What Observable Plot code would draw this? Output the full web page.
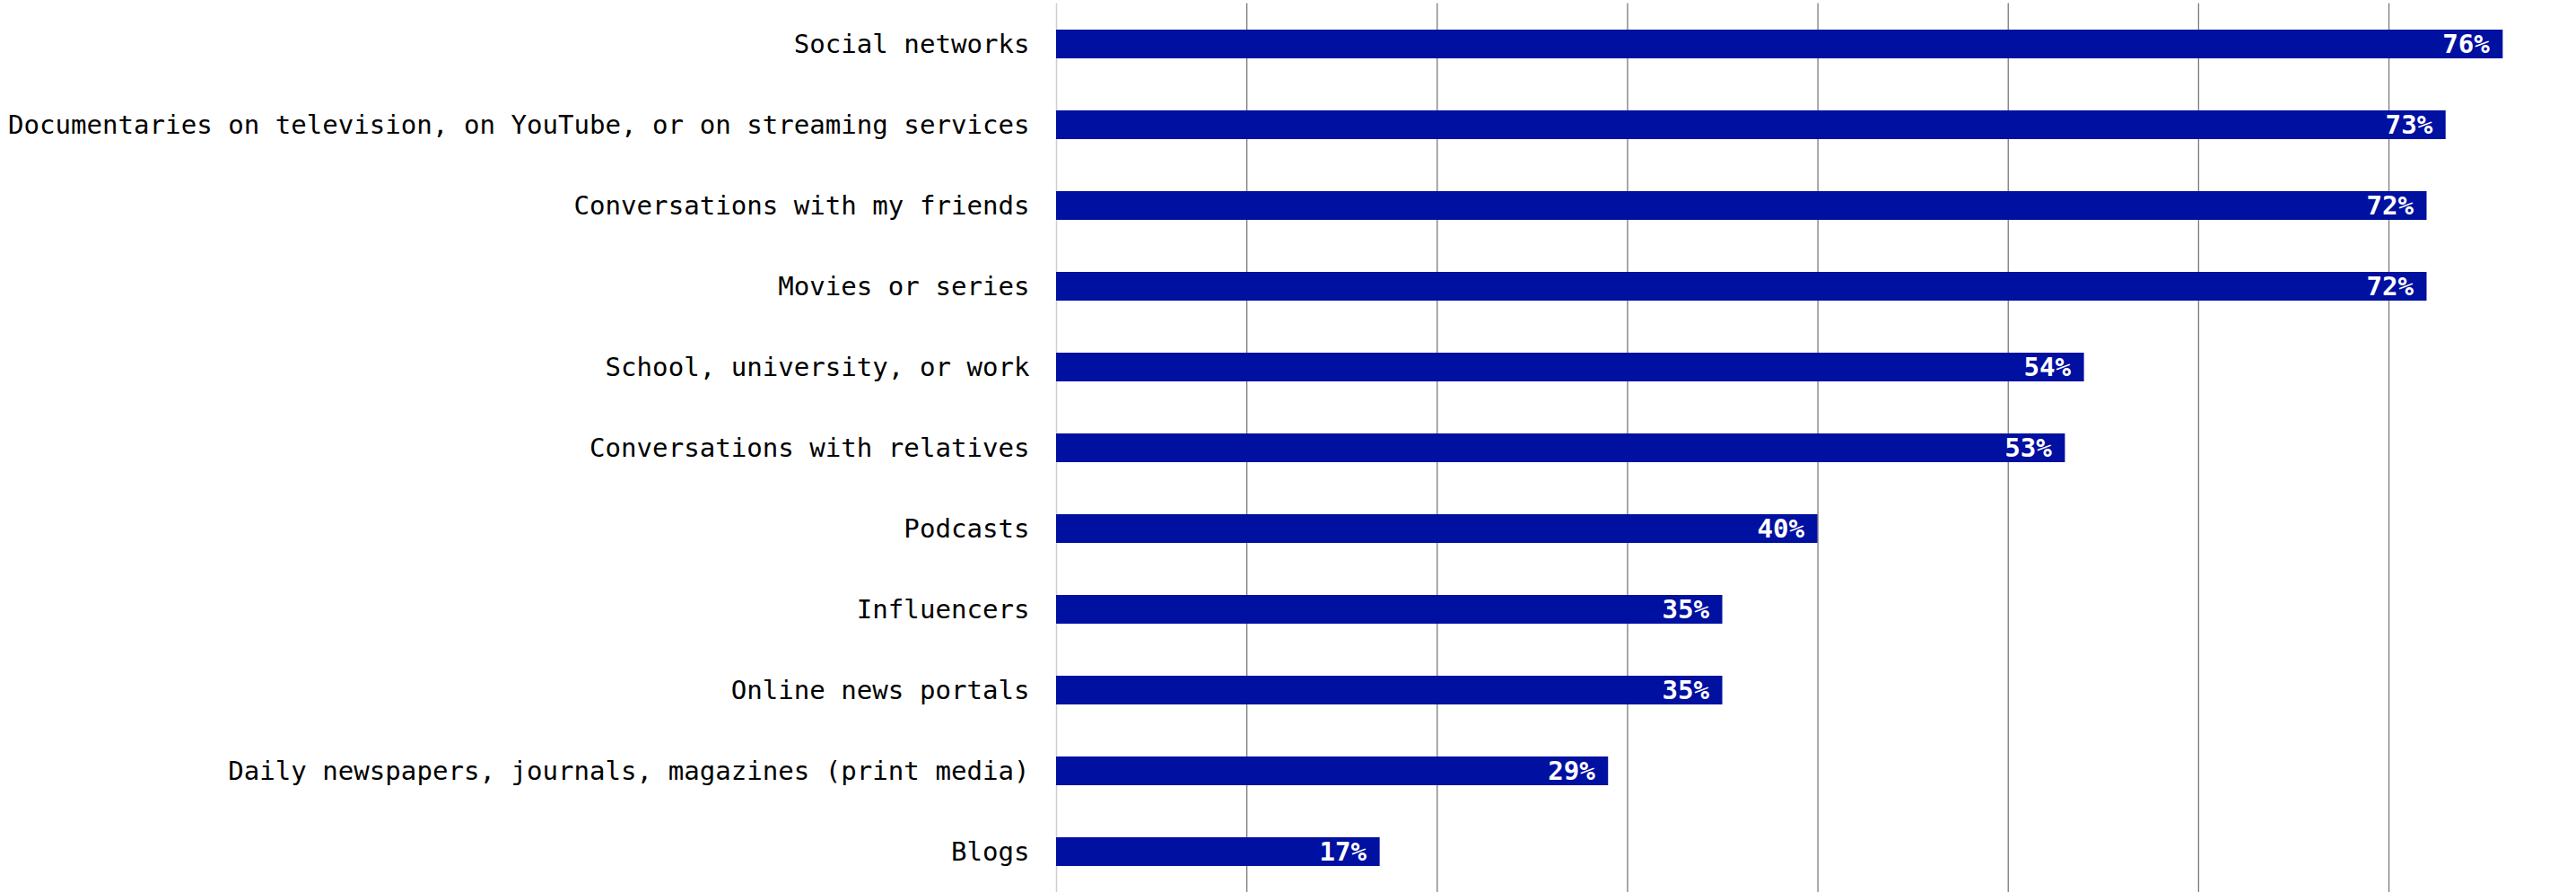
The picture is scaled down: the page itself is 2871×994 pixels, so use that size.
<!DOCTYPE html>
<html>
<head>
<meta charset="utf-8">
<script src="https://cdn.jsdelivr.net/npm/d3@7"></script>
<script src="https://cdn.jsdelivr.net/npm/@observablehq/plot@0.6"></script>
<style>
  html, body { margin: 0; padding: 0; background: #fff; }
  #chart svg { display: block; }
</style>
</head>
<body>
<div id="chart"></div>
<script>
const categories = [
  "Social networks",
  "Documentaries on television, on YouTube, or on streaming services",
  "Conversations with my friends",
  "Movies or series",
  "School, university, or work",
  "Conversations with relatives",
  "Podcasts",
  "Influencers",
  "Online news portals",
  "Daily newspapers, journals, magazines (print media)",
  "Blogs"
];
const values = [76, 73, 72, 72, 54, 53, 40, 35, 35, 29, 17];
const gridTicks = [10, 20, 30, 40, 50, 60, 70];

const data = categories.map((c, i) => ({label: c, value: values[i]}));
const FONT = "'DejaVu Sans Mono', 'Liberation Mono', monospace";

const chart = Plot.plot({
  width: 2871,
  height: 994,
  marginLeft: 1177,
  marginRight: 0,
  marginTop: 3.5,
  marginBottom: 0,
  style: {background: "#fff", fontFamily: FONT},
  x: {domain: [0, 79.85], axis: null},
  y: {domain: categories, paddingInner: 0.645, paddingOuter: 0.3225, label: null},
  marks: [
    Plot.ruleX(gridTicks, {stroke: "#7a7a7a", strokeWidth: 1.3}),
    Plot.ruleX([0], {stroke: "#cfcfcf", strokeWidth: 1.5}),
    Plot.barX(data, {x: "value", y: "label", fill: "#0010a0"}),
    Plot.text(data, {
      x: "value", y: "label", text: d => d.value + "%",
      textAnchor: "end", dx: -15, fill: "#fff", fontWeight: "bold",
      fontSize: 29.1, fontFamily: FONT
    }),
    Plot.axisY({tickSize: 0, tickPadding: 30, fontSize: 29.1, fontFamily: FONT, label: null, color: "#000"})
  ]
});
document.getElementById("chart").appendChild(chart);
</script>
</body>
</html>
